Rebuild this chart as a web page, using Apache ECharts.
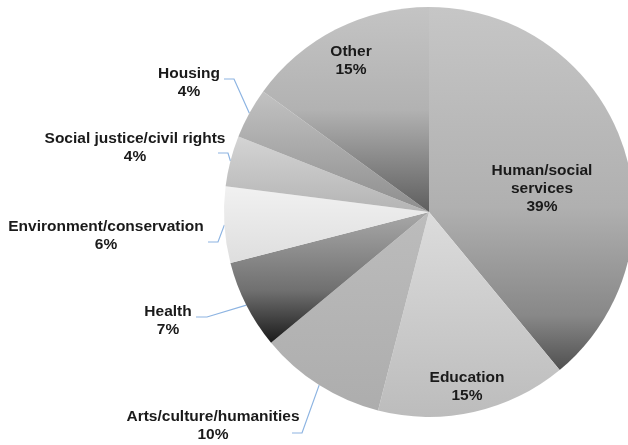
<!DOCTYPE html>
<html>
<head>
<meta charset="utf-8">
<script src="https://cdn.jsdelivr.net/npm/echarts@6/dist/echarts.min.js"></script>
<style>
html,body{margin:0;padding:0;background:#fff;}
#chart{width:628px;height:445px;}
</style>
</head>
<body>
<div id="chart"></div>
<script>
// ---- data ----
const categories = [
  'Human/social\nservices',
  'Education',
  'Arts/culture/humanities',
  'Health',
  'Environment/conservation',
  'Social justice/civil rights',
  'Housing',
  'Other'
];
const values = [39, 15, 10, 7, 6, 4, 4, 15];

// ---- styles (not data) ----
const gradStops = [
  [[0, '#c6c6c6'], [0.55, '#b0b0b0'], [0.85, '#888888'], [1, '#505050']],
  [[0, '#dcdcdc'], [1, '#bcbcbc']],
  [[0, '#bcbcbc'], [1, '#adadad']],
  [[0, '#a8a8a8'], [0.6, '#707070'], [1, '#1a1a1a']],
  [[0, '#f1f1f1'], [1, '#dedede']],
  [[0, '#d4d4d4'], [1, '#b4b4b4']],
  [[0, '#c2c2c2'], [1, '#8e8e8e']],
  [[0, '#c4c4c4'], [0.5, '#b2b2b2'], [1, '#5e5e5e']]
];
const insideLabel = [true, true, false, false, false, false, false, true];
// label centre positions and leader elbow/end positions (layout only)
const labelPos = [
  [542, 189], [467, 387], [213, 426], [168, 321],
  [106, 236], [135, 148], [189, 83], [351, 61]
];
const leaderPts = [
  null, null,
  [[302, 433], [292, 433]],
  [[207, 317], [196, 317]],
  [[218, 242], [208, 242]],
  [[228, 153], [218, 153]],
  [[234, 79], [224, 79]],
  null
];

const chart = echarts.init(document.getElementById('chart'), null, {renderer: 'canvas'});

const seriesData = categories.map((name, i) => ({
  name: name,
  value: values[i],
  itemStyle: {
    color: {
      type: 'linear', x: 0, y: 0, x2: 0, y2: 1,
      colorStops: gradStops[i].map(s => ({offset: s[0], color: s[1]}))
    }
  },
  label: { position: insideLabel[i] ? 'inside' : 'outside' },
  labelLine: { show: !insideLabel[i] }
}));

chart.setOption({
  animation: false,
  backgroundColor: '#ffffff',
  series: [{
    type: 'pie',
    center: [429, 212],
    radius: 205,
    startAngle: 90,
    clockwise: true,
    avoidLabelOverlap: false,
    data: seriesData,
    itemStyle: { borderWidth: 0 },
    emphasis: { disabled: true },
    label: {
      show: true,
      formatter: p => p.name + '\n' + p.value + '%',
      fontFamily: 'Liberation Sans, Arial, sans-serif',
      fontWeight: 'bold',
      fontSize: 15.5,
      lineHeight: 18,
      color: '#1a1a1a',
      align: 'center'
    },
    labelLine: {
      length: 10,
      length2: 10,
      lineStyle: { color: '#8db4e2', width: 1.2 }
    },
    labelLayout: function (params) {
      const i = params.dataIndex;
      const out = {
        x: labelPos[i][0],
        y: labelPos[i][1],
        align: 'center',
        verticalAlign: 'middle',
        hideOverlap: false,
        moveOverlap: null
      };
      if (leaderPts[i] && params.labelLinePoints) {
        const p0 = params.labelLinePoints[0];
        out.labelLinePoints = [[p0[0], p0[1]], leaderPts[i][0], leaderPts[i][1]];
      }
      return out;
    }
  }]
});
</script>
</body>
</html>
